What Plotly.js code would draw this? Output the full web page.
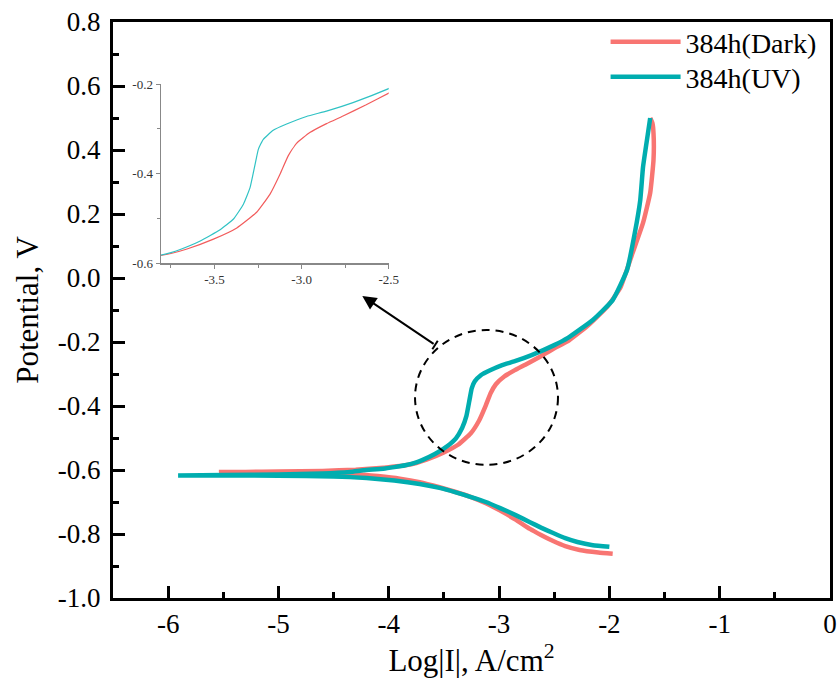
<!DOCTYPE html>
<html>
<head>
<meta charset="utf-8">
<script src="https://cdn.plot.ly/plotly-3.0.1.min.js"></script>
<style>html,body{margin:0;padding:0;background:#fff;}#plot{width:840px;height:688px;}</style>
</head>
<body>
<div id="plot"></div>
<script>
// Series: 384h(Dark) — cathodic end -> Ecorr -> anodic end
const darkX = [-1.97,-2.1,-2.27,-2.4,-2.51,-2.62,-2.72,-2.85,-2.99,-3.12,-3.26,-3.4,-3.54,-3.72,-3.9,-4.1,-4.3,-4.6,-5.0,-5.3,-5.52,
  -5.3,-5.0,-4.6,-4.3,-4.05,-3.95,-3.85,-3.75,-3.658,-3.506,-3.372,-3.258,-3.182,-3.124,-3.077,-3.029,-2.953,-2.857,-2.762,-2.629,-2.495,-2.38,-2.2,-2.02,-1.9,-1.79,-1.695,-1.63,-1.6,-1.6,-1.61,-1.63];
const darkY = [-0.862,-0.858,-0.85,-0.838,-0.822,-0.803,-0.784,-0.755,-0.727,-0.704,-0.684,-0.668,-0.654,-0.638,-0.627,-0.619,-0.613,-0.61,-0.608,-0.607,-0.606,
  -0.606,-0.605,-0.603,-0.599,-0.593,-0.589,-0.585,-0.578,-0.568,-0.546,-0.521,-0.486,-0.446,-0.401,-0.36,-0.332,-0.308,-0.288,-0.271,-0.246,-0.219,-0.198,-0.15,-0.09,-0.03,0.078,0.172,0.266,0.369,0.453,0.484,0.5];
// Series: 384h(UV)
const uvX = [-2.0,-2.15,-2.29,-2.4,-2.51,-2.62,-2.72,-2.85,-2.99,-3.12,-3.26,-3.4,-3.54,-3.72,-3.95,-4.2,-4.5,-5.0,-5.5,-5.91,
  -5.5,-5.0,-4.6,-4.35,-4.23,-4.05,-3.95,-3.85,-3.75,-3.697,-3.582,-3.468,-3.391,-3.334,-3.296,-3.267,-3.248,-3.22,-3.163,-3.086,-2.972,-2.857,-2.705,-2.495,-2.38,-2.15,-1.97,-1.84,-1.77,-1.72,-1.695,-1.65,-1.63];
const uvY = [-0.84,-0.835,-0.825,-0.813,-0.797,-0.78,-0.763,-0.741,-0.719,-0.7,-0.684,-0.669,-0.656,-0.644,-0.633,-0.625,-0.62,-0.618,-0.617,-0.617,
  -0.616,-0.614,-0.611,-0.606,-0.601,-0.596,-0.591,-0.585,-0.576,-0.569,-0.55,-0.525,-0.501,-0.468,-0.431,-0.379,-0.345,-0.323,-0.303,-0.289,-0.272,-0.26,-0.241,-0.209,-0.188,-0.131,-0.069,0.025,0.14,0.244,0.347,0.453,0.5];
const seriesNames = ['384h(Dark)', '384h(UV)'];
const xTickVals = [-6,-5,-4,-3,-2,-1,0];
const xTickText = ['-6','-5','-4','-3','-2','-1','0'];
const yTickVals = [0.8,0.6,0.4,0.2,0.0,-0.2,-0.4,-0.6,-0.8,-1.0];
const yTickText = ['0.8','0.6','0.4','0.2','0.0','-0.2','-0.4','-0.6','-0.8','-1.0'];
const insetXTickVals = [-3.5,-3.0,-2.5];
const insetXTickText = ['-3.5','-3.0','-2.5'];
const insetYTickVals = [-0.2,-0.4,-0.6];
const insetYTickText = ['-0.2','-0.4','-0.6'];

const RED = '#F87572';
const TEAL = '#00ADAF';
const FONT = '"Liberation Serif", "Times New Roman", serif';

const traces = [
  {x: darkX, y: darkY, name: seriesNames[0], type: 'scatter', mode: 'lines', legend: 'legend',
   line: {color: RED, width: 4.5, shape: 'spline', smoothing: 0.4}, xaxis: 'x', yaxis: 'y'},
  {x: uvX, y: uvY, name: seriesNames[1], type: 'scatter', mode: 'lines', legend: 'legend2',
   line: {color: TEAL, width: 4.5, shape: 'spline', smoothing: 0.4}, xaxis: 'x', yaxis: 'y'},
  {x: darkX, y: darkY, name: seriesNames[0], type: 'scatter', mode: 'lines', showlegend: false,
   line: {color: '#F25C5C', width: 1.2, shape: 'spline', smoothing: 0.4}, xaxis: 'x2', yaxis: 'y2'},
  {x: uvX, y: uvY, name: seriesNames[1], type: 'scatter', mode: 'lines', showlegend: false,
   line: {color: '#30C2C4', width: 1.2, shape: 'spline', smoothing: 0.4}, xaxis: 'x2', yaxis: 'y2'}
];

const legendStyle = (yc) => ({x: 0.687, y: yc, xanchor: 'left', yanchor: 'middle', bgcolor: 'rgba(0,0,0,0)',
  font: {family: FONT, size: 28, color: '#000'}, itemwidth: 70});

const layout = {
  width: 840, height: 688,
  margin: {l: 113, r: 10, t: 22, b: 90},
  paper_bgcolor: '#fff', plot_bgcolor: '#fff',
  font: {family: FONT, color: '#000'},
  showlegend: true,
  legend: legendStyle(0.9652),
  legend2: legendStyle(0.9045),
  xaxis: {
    range: [-6.5, 0], tickvals: xTickVals, ticktext: xTickText,
    ticks: 'inside', ticklen: 12, tickwidth: 3, tickcolor: '#000',
    minor: {ticks: 'inside', ticklen: 6, tickwidth: 3, tickcolor: '#000', dtick: 0.5, tick0: 0},
    showline: true, linewidth: 3, linecolor: '#000', mirror: true,
    showgrid: false, zeroline: false,
    tickfont: {family: FONT, size: 27, color: '#000'},
    title: {text: 'Log|I|, A/cm<sup>2</sup>', font: {family: FONT, size: 31, color: '#000'}, standoff: 10}
  },
  yaxis: {
    range: [-1.0, 0.8], tickvals: yTickVals, ticktext: yTickText,
    ticks: 'inside', ticklen: 12, tickwidth: 3, tickcolor: '#000',
    minor: {ticks: 'inside', ticklen: 6, tickwidth: 3, tickcolor: '#000', dtick: 0.1, tick0: 0},
    showline: true, linewidth: 3, linecolor: '#000', mirror: true,
    showgrid: false, zeroline: false, ticklabelstandoff: 4,
    tickfont: {family: FONT, size: 27, color: '#000'},
    title: {text: 'Potential, V', font: {family: FONT, size: 31, color: '#000'}, standoff: 10}
  },
  xaxis2: {
    domain: [0.067, 0.3845], anchor: 'y2', range: [-3.807, -2.5],
    tickvals: insetXTickVals, ticktext: insetXTickText,
    ticks: 'outside', ticklen: 4, tickwidth: 1, tickcolor: '#888',
    minor: {ticks: 'outside', ticklen: 3, tickwidth: 1, tickcolor: '#888', dtick: 0.25, tick0: -3.5},
    showline: true, linewidth: 1.5, linecolor: '#888', mirror: false,
    showgrid: false, zeroline: false,
    tickfont: {family: FONT, size: 13, color: '#333'}
  },
  yaxis2: {
    domain: [0.581, 0.892], anchor: 'x2', range: [-0.6, -0.2],
    tickvals: insetYTickVals, ticktext: insetYTickText,
    ticks: 'outside', ticklen: 4, tickwidth: 1, tickcolor: '#888',
    minor: {ticks: 'outside', ticklen: 3, tickwidth: 1, tickcolor: '#888', dtick: 0.1, tick0: -0.6},
    showline: true, linewidth: 1.5, linecolor: '#888', mirror: false,
    showgrid: false, zeroline: false,
    tickfont: {family: FONT, size: 13, color: '#333'}
  },
  shapes: [
    {type: 'circle', xref: 'x', yref: 'y', x0: -3.762, x1: -2.466, y0: -0.584, y1: -0.1625,
     line: {color: '#000', width: 2, dash: '8px,6px'}},
    {type: 'line', xref: 'x', yref: 'y', x0: -3.556, y0: -0.196, x1: -3.605, y1: -0.2225,
     line: {color: '#000', width: 2}}
  ],
  annotations: [
    {x: -4.24, y: -0.056, ax: -3.58, ay: -0.209, xref: 'x', yref: 'y', axref: 'x', ayref: 'y',
     text: '', showarrow: true, arrowhead: 2, arrowsize: 1.4, arrowwidth: 2, arrowcolor: '#000', standoff: 0}
  ]
};

Plotly.newPlot('plot', traces, layout, {displayModeBar: false, staticPlot: true});
</script>
</body>
</html>
